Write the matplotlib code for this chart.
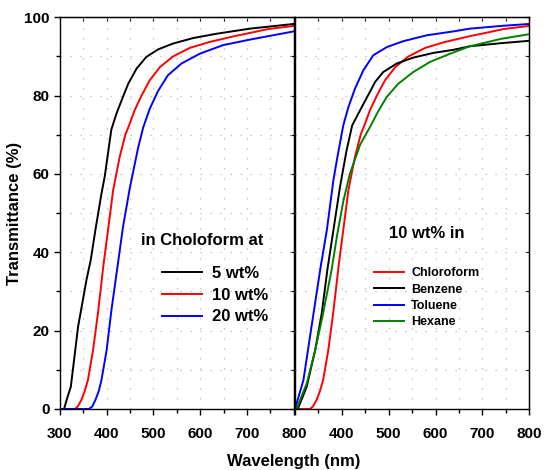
import numpy as np
import matplotlib.pyplot as plt
from matplotlib.ticker import MultipleLocator

plt.rcParams['font.family'] = ['Liberation Sans', 'DejaVu Sans']
plt.rcParams['font.weight'] = 'bold'

# left panel: chloroform solutions at different loadings
wl_5 = [300, 309, 315, 323.5, 339, 357, 366, 376, 389, 396, 403, 410, 421, 432, 446, 464, 485, 510, 542, 585, 635, 706, 800]
t_5 = [0, 0, 2.5, 5.7, 21, 33, 38, 45.7, 55, 59.4, 65.3, 71.3, 75.4, 78.8, 83, 86.9, 89.9, 91.8, 93.3, 94.7, 95.8, 97.1, 98.3]

wl_10 = [300, 332, 338, 346, 353, 360, 371, 382, 393, 403, 414, 428, 440, 448, 460, 475, 492, 514, 542, 578, 620, 670, 706, 745, 800]
t_10 = [0, 0, 0.6, 2.3, 4.5, 7.4, 15, 25, 36.5, 45.7, 55.9, 64.4, 70, 72.4, 76.3, 80.1, 83.9, 87.3, 90, 92.2, 93.7, 95.1, 96, 97, 97.8]

wl_20 = [300, 362, 369, 376, 383, 389, 400, 410, 424, 435, 450, 467, 478, 492, 510, 531, 560, 599, 649, 706, 800]
t_20 = [0, 0, 0.6, 2.3, 4.5, 7.4, 15, 25, 37, 46.5, 56.7, 66.5, 71.8, 76.6, 81.2, 85.2, 88.2, 90.7, 92.9, 94.3, 96.4]

# right panel: 10 wt% in different solvents
wl_tol = [300, 318, 332, 346, 355, 368, 382, 390, 396, 403, 414, 428, 446, 467, 496, 531, 581, 638, 673, 740, 800]
t_tol = [0, 7.4, 18.5, 29.5, 36.5, 45.7, 58.5, 64, 67.9, 72.4, 77.1, 81.8, 86.5, 90.3, 92.4, 93.9, 95.4, 96.4, 97.1, 97.8, 98.3]

wl_ben = [300, 307, 325, 343, 357, 369, 382, 396, 410, 422, 439, 456, 471, 488, 517, 552, 595, 638, 673, 740, 800]
t_ben = [0, 0.3, 5.7, 15, 24.4, 35.5, 45.7, 56.7, 66, 72.4, 76.3, 80.1, 83.5, 86, 88.2, 89.7, 90.9, 91.7, 92.6, 93.4, 94]

wl_hex = [300, 304, 325, 343, 360, 378, 390, 403, 417, 439, 461, 478, 496, 520, 552, 588, 631, 673, 740, 800]
t_hex = [0, 0.3, 6.5, 15, 24.4, 35.5, 44.5, 53, 60, 67.5, 72.2, 76.1, 79.7, 83, 86, 88.6, 90.7, 92.6, 94.5, 95.7]

fig = plt.figure(figsize=(5.44, 4.70), dpi=100)
ax1 = fig.add_axes([0.110, 0.1298, 0.430, 0.8334])
ax2 = fig.add_axes([0.5423, 0.1298, 0.4307, 0.8334])

lw = 1.4
ax1.plot(wl_5, t_5, color='black', lw=lw, label='5 wt%')
ax1.plot(wl_10, t_10, color='#ff0000', lw=lw, label='10 wt%')
ax1.plot(wl_20, t_20, color='#0000ff', lw=lw, label='20 wt%')

ax2.plot(wl_10, t_10, color='#ff0000', lw=lw, label='Chloroform')
ax2.plot(wl_ben, t_ben, color='black', lw=lw, label='Benzene')
ax2.plot(wl_tol, t_tol, color='#0000ff', lw=lw, label='Toluene')
ax2.plot(wl_hex, t_hex, color='#008000', lw=lw, label='Hexane')

for ax in (ax1, ax2):
    ax.set_xlim(300, 800)
    ax.set_ylim(0, 100)
    ax.xaxis.set_major_locator(MultipleLocator(100))
    ax.xaxis.set_minor_locator(MultipleLocator(50))
    ax.yaxis.set_major_locator(MultipleLocator(20))
    ax.yaxis.set_minor_locator(MultipleLocator(10))
    ax.grid(True, which='both', color='#b8b8b8', lw=0.9, ls=(0, (1, 7)))
    ax.set_axisbelow(True)
    ax.tick_params(which='both', direction='out', length=4, width=1, labelsize=11)
    ax.tick_params(which='minor', length=3)
    ax.tick_params(axis='x', which='major', pad=9)
    for s in ax.spines.values():
        s.set_linewidth(1)
    top = ax.secondary_xaxis('top')
    top.xaxis.set_major_locator(MultipleLocator(50))
    top.tick_params(direction='in', length=3, labeltop=False)
    right = ax.secondary_yaxis('right')
    right.yaxis.set_major_locator(MultipleLocator(10))
    right.tick_params(direction='in', length=3, labelright=False)

ax2.tick_params(axis='y', which='both', left=False, labelleft=False)
ax2.set_xticks([300, 400, 500, 600, 700, 800])
ax2.set_xticklabels(['', '400', '500', '600', '700', '800'])
for lab in ax1.get_xticklabels() + ax1.get_yticklabels() + ax2.get_xticklabels():
    lab.set_fontweight('bold')

ax1.set_ylabel('Transmittance (%)', fontsize=12, fontweight='bold')
ax1.yaxis.set_label_coords(-0.16, 0.5)
fig.text(0.54, 0.019, 'Wavelength (nm)', ha='center', va='center', fontsize=12, fontweight='bold')

ax1.text(0.607, 0.43, 'in Choloform at', transform=ax1.transAxes, ha='center', va='center',
         fontsize=12, fontweight='bold')
ax1.legend(loc='upper left', bbox_to_anchor=(0.435, 0.365), frameon=False, borderpad=0,
           borderaxespad=0, handlelength=2.4, handletextpad=0.6, labelspacing=0.4,
           prop={'size': 12, 'weight': 'bold'})

ax2.text(0.563, 0.449, '10 wt% in', transform=ax2.transAxes, ha='center', va='center',
         fontsize=12, fontweight='bold')
ax2.legend(loc='upper left', bbox_to_anchor=(0.335, 0.362), frameon=False, borderpad=0,
           borderaxespad=0, handlelength=2.4, handletextpad=0.6, labelspacing=0.35,
           prop={'size': 9, 'weight': 'bold'})

fig.savefig('out.png', dpi=100)
